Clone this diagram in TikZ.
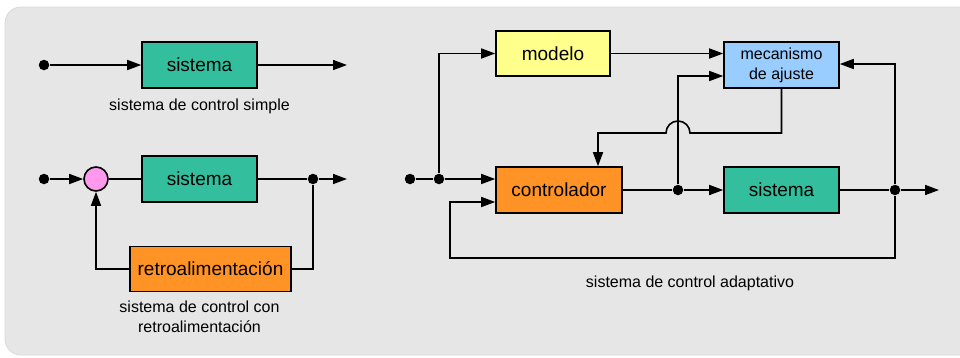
\documentclass[tikz,border=0pt]{standalone}
\usepackage{fontspec}
\setmainfont{Liberation Sans}
\usetikzlibrary{arrows.meta,calc}
\definecolor{fondo}{HTML}{E6E6E6}
\definecolor{verdesis}{HTML}{33BF9E}
\definecolor{naranja}{HTML}{FF9326}
\definecolor{amarillo}{HTML}{FFFF8C}
\definecolor{azul}{HTML}{99CCFF}
\definecolor{rosa}{HTML}{FF99EE}
\tikzset{bloque/.style={draw=black,line width=1.6pt,minimum height=46pt,inner sep=0pt,font=\fontsize{19}{22}\selectfont}}
\tikzset{flecha/.style={-{Triangle[length=14pt,width=10pt]}}}
\tikzset{union/.style={circle,fill=black,inner sep=0pt,minimum size=10.5pt}}
\tikzset{suma/.style={circle,draw=black,fill=rosa,line width=1.6pt,inner sep=0pt,minimum size=24pt}}
\tikzset{leyenda/.style={font=\fontsize{16}{20}\selectfont,align=center}}

\begin{document}
\begin{tikzpicture}[x=1pt,y=-1pt,line width=1.6pt]
	\useasboundingbox (0,0) rectangle (960,357);
	\filldraw[fill=fondo,draw=black!15,line width=0.8pt,rounded corners=16pt] (5,7) rectangle (990,355); %fondo

	% control simple
	\node[union] (e1) at (44,65) {};
	\node[bloque,fill=verdesis,minimum width=115pt] (sis1) at (199.5,65) {sistema};
	\coordinate (s1out) at (347,65);
	\draw[flecha] (e1) -- (sis1);
	\draw[flecha] (sis1) -- (s1out);
	\node[leyenda] (ley1) at (199.5,106) {sistema de control simple};

	% control con retroalimentacion
	\node[union] (e2) at (44,179) {};
	\node[suma] (sum) at (96,179) {};
	\node[bloque,fill=verdesis,minimum width=115pt] (sis2) at (199.5,179) {sistema};
	\node[union] (d2) at (313,179) {};
	\coordinate (s2out) at (347,179);
	\node[bloque,fill=naranja,minimum width=161pt,minimum height=45pt] (retro) at (210.5,269) {retroalimentación};
	\draw[flecha] (e2) -- (sum);
	\draw (sum) -- (sis2);
	\draw (sis2) -- (d2);
	\draw[flecha] (d2) -- (s2out);
	\draw (d2) |- (retro);
	\draw[flecha] (retro) -| (sum);
	\node[leyenda] (ley2) at (199.5,317) {sistema de control con\\retroalimentación};

	% control adaptativo
	\node[union] (e3) at (410,179) {};
	\node[union] (d3) at (439,179) {};
	\node[bloque,fill=amarillo,minimum width=114pt,minimum height=45pt] (modelo) at (553,53.5) {modelo};
	\node[bloque,fill=naranja,minimum width=126pt] (ctrl) at (559,190) {controlador};
	\node[bloque,fill=verdesis,minimum width=115pt] (sis3) at (781.5,190) {sistema};
	\node[bloque,fill=azul,minimum width=115pt,align=center,font=\fontsize{16}{20}\selectfont] (ajuste) at (781.5,65) {mecanismo\\de ajuste};
	\node[union] (d4) at (678,190) {};
	\node[union] (d5) at (895,190) {};
	\coordinate (s3out) at (939,190);
	\coordinate (rb) at (450,258);
	\coordinate (giro) at (598,133);

	\draw (e3) -- (d3);
	\draw[flecha] (d3) -- (ctrl.west |- d3);
	\draw[flecha] (d3) |- (modelo);
	\draw[flecha] (modelo) -- (ajuste.west |- modelo);
	\draw (ctrl) -- (d4);
	\draw[flecha] (d4) -- (sis3);
	\draw[flecha] (d4) |- ($(ajuste.west)+(0,11)$);
	\draw (sis3) -- (d5);
	\draw[flecha] (d5) -- (s3out);
	\draw[flecha] (d5) |- ($(ajuste.east)+(0,-1)$);
	\draw[flecha] (d5) |- (rb) |- ($(ctrl.west)+(0,12)$);
	\draw[flecha] (ajuste.south) |- (690,133) arc[start angle=0,end angle=180,radius=12pt] -- (giro) -- (giro |- ctrl.north);
	\node[leyenda] (ley3) at (690,283) {sistema de control adaptativo};
\end{tikzpicture}
\end{document}
